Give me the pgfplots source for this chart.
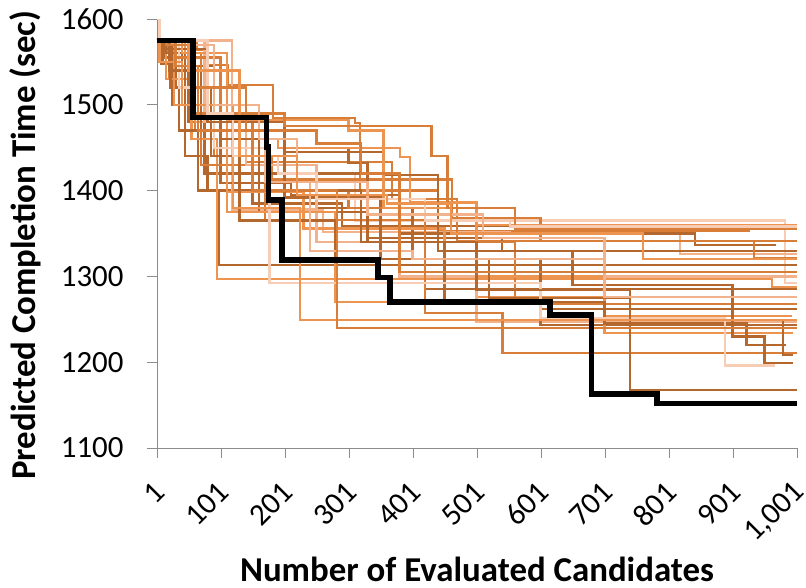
\documentclass[border=0pt]{standalone}
\usepackage{pgfplots}
\pgfplotsset{compat=1.18}
\usepackage{fontspec}
\setmainfont{Carlito}
\definecolor{c1}{RGB}{181,104,46}
\definecolor{c2}{RGB}{216,126,56}
\definecolor{c3}{RGB}{237,148,80}
\definecolor{c4}{RGB}{242,178,140}
\definecolor{c5}{RGB}{247,205,182}
\begin{document}
\begin{tikzpicture}
\useasboundingbox (-157bp,-140bp) rectangle (649bp,448bp);
\begin{axis}[
  scale only axis, width=640bp, height=429bp,
  xmin=1, xmax=1001, ymin=1100, ymax=1600,
  axis x line=bottom, axis y line=left,
  axis line style={draw=black!45, line width=0.9bp, -},
  xtick={1,101,201,301,401,501,601,701,801,901,1001},
  xticklabels={1,101,201,301,401,501,601,701,801,901,{1,001}},
  ytick={1100,1200,1300,1400,1500,1600},
  /pgf/number format/1000 sep={},
  /pgf/number format/assume math mode=true,
  tick align=outside, major tick length=10bp,
  tick style={draw=black!45, line width=0.9bp},
  xticklabel style={yshift=-27bp, xshift=5bp, rotate=45, anchor=east, font=\fontsize{31}{33}\selectfont},
  yticklabel shift=20bp,
  yticklabel style={font=\fontsize{31}{33}\selectfont},
  xlabel={Number of Evaluated Candidates},
  ylabel={Predicted Completion Time (sec)},
  label style={font=\bfseries\fontsize{35}{37}\selectfont, inner sep=0pt, text depth=0pt},
  xlabel style={at={(axis description cs:0.5,-0.312)}, anchor=base},
  ylabel style={at={(axis description cs:-0.21,0.473)}, anchor=center},
  every axis plot/.append style={const plot, no marks, line width=2.3bp},
]
\addplot[c1] coordinates {(1,1575)(8,1548)(25,1500)(45,1440)(80,1400)(150,1385)(290,1359)(1001,1359)};
\addplot[c2] coordinates {(1,1575)(63,1564)(79,1546)(112,1523)(182,1485)(310,1479)(318,1400)(440,1353)(927,1353)};
\addplot[c5] coordinates {(1,1600)(5,1575)(30,1540)(70,1480)(150,1420)(310,1365)(982,1292)(1001,1292)};
\addplot[c4] coordinates {(1,1575)(118,1378)(260,1352)(553,1350)(818,1326)(1001,1326)};
\addplot[c2] coordinates {(1,1575)(20,1530)(60,1470)(140,1433)(368,1390)(470,1341)(1001,1341)};
\addplot[c1] coordinates {(1,1575)(12,1555)(50,1480)(100,1409)(210,1395)(380,1350)(842,1337)(968,1337)};
\addplot[c1] coordinates {(1,1575)(30,1520)(75,1420)(160,1375)(330,1345)(540,1330)(1001,1330)};
\addplot[c2] coordinates {(1,1575)(40,1500)(90,1440)(180,1413)(345,1413)(462,1368)(600,1341)(934,1321)(1001,1321)};
\addplot[c1] coordinates {(1,1575)(10,1550)(35,1470)(65,1400)(97,1313)(1001,1313)};
\addplot[c3] coordinates {(1,1575)(15,1530)(55,1460)(95,1297)(962,1288)(1001,1288)};
\addplot[c1] coordinates {(1,1575)(25,1545)(90,1470)(200,1450)(300,1432)(330,1380)(420,1285)(1001,1285)};
\addplot[c3] coordinates {(1,1575)(45,1520)(100,1460)(190,1450)(381,1439)(396,1386)(500,1276)(980,1276)};
\addplot[c2] coordinates {(1,1575)(18,1560)(70,1430)(170,1366)(420,1340)(560,1268)(1001,1268)};
\addplot[c1] coordinates {(1,1575)(50,1500)(120,1420)(250,1380)(400,1320)(600,1262)(1001,1262)};
\addplot[c3] coordinates {(1,1575)(60,1480)(110,1398)(230,1356)(450,1300)(700,1254)(993,1254)};
\addplot[c4] coordinates {(1,1575)(75,1480)(140,1430)(250,1340)(380,1300)(500,1247)(1001,1247)};
\addplot[c1] coordinates {(1,1575)(22,1520)(85,1440)(200,1392)(350,1320)(600,1243)(1001,1243)};
\addplot[c3] coordinates {(1,1575)(28,1500)(110,1375)(280,1270)(700,1234)(995,1234)};
\addplot[c1] coordinates {(1,1575)(40,1540)(100,1460)(200,1420)(330,1340)(450,1270)(700,1245)(922,1220)(984,1220)};
\addplot[c2] coordinates {(1,1575)(55,1490)(150,1400)(300,1380)(420,1257)(541,1211)(1001,1211)};
\addplot[c1] coordinates {(1,1575)(15,1560)(45,1470)(130,1365)(280,1320)(520,1275)(740,1249)(979,1208)(995,1208)};
\addplot[c5] coordinates {(1,1575)(35,1520)(90,1450)(177,1292)(600,1251)(888,1196)(966,1196)};
\addplot[c1] coordinates {(1,1575)(20,1540)(70,1470)(160,1400)(320,1340)(500,1284)(740,1168)(1001,1168)};
\addplot[c1] coordinates {(1,1575)(10,1565)(80,1480)(200,1445)(355,1418)(440,1330)(650,1290)(900,1230)(950,1199)(995,1199)};
\addplot[c4] coordinates {(1,1575)(50,1560)(90,1490)(170,1410)(240,1330)(400,1320)(700,1276)(1001,1276)};
\addplot[c3] coordinates {(1,1575)(5,1550)(40,1500)(120,1380)(224,1249)(1001,1249)};
\addplot[c2] coordinates {(1,1575)(30,1545)(65,1470)(150,1400)(282,1240)(1001,1240)};
\addplot[c3] coordinates {(1,1575)(40,1560)(110,1482)(300,1470)(355,1380)(500,1360)(1001,1360)};
\addplot[c2] coordinates {(1,1575)(30,1555)(100,1490)(200,1475)(430,1440)(455,1380)(560,1356)(1001,1356)};
\addplot[c5] coordinates {(1,1575)(60,1575)(80,1490)(120,1440)(190,1420)(250,1390)(420,1365)(553,1358)(1001,1358)};
\addplot[c4] coordinates {(1,1575)(25,1570)(90,1500)(160,1460)(220,1410)(330,1372)(510,1345)(700,1300)(1001,1300)};
\addplot[c2] coordinates {(1,1575)(15,1570)(60,1520)(140,1470)(250,1455)(320,1420)(380,1305)(1001,1305)};
\addplot[c3] coordinates {(1,1575)(50,1540)(130,1440)(220,1395)(360,1385)(460,1350)(760,1320)(1001,1320)};
\addplot[black, line width=5.5bp] coordinates {(1,1575)(57,1485)(172,1451)(175,1389)(196,1319)(346,1299)(365,1270)(615,1255)(680,1163)(782,1152)(1001,1152)};
\end{axis}
\end{tikzpicture}
\end{document}
